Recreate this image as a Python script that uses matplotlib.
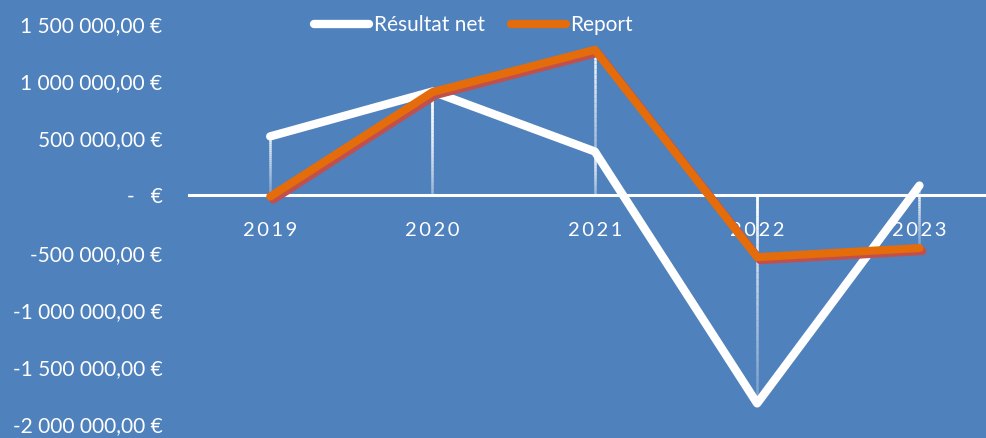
import numpy as np
import matplotlib
matplotlib.use("Agg")
import matplotlib.pyplot as plt
import matplotlib.patheffects as pe
from matplotlib.ticker import FixedLocator, FixedFormatter

years = ["2019", "2020", "2021", "2022", "2023"]
resultat_net = [517000, 910000, 385000, -1820000, 87000]
report = [-10000, 905000, 1275000, -540000, -460000]

y_ticks = [-2000000, -1500000, -1000000, -500000, 0, 500000, 1000000, 1500000]
y_labels = ["-2 000 000,00 €", "-1 500 000,00 €", "-1 000 000,00 €", "-500 000,00 €",
            "-   €", "500 000,00 €", "1 000 000,00 €", "1 500 000,00 €"]

bg = "#4F81BD"
orange = "#E46C0A"
shadow = "#C0504D"

plt.rcParams['font.family'] = ['Lato', 'DejaVu Sans']

fig = plt.figure(figsize=(9.87, 4.38), dpi=100, facecolor=bg)
ax = fig.add_axes([0.1915, 0.032, 0.8223, 0.913])
ax.set_facecolor(bg)
x = np.arange(len(years))

# drop lines with a vertical fade (bright at top)
def drop_line(xi, v):
    lo, hi = min(v, 0), max(v, 0)
    n = 30
    edges = np.linspace(hi, lo, n + 1)
    for k in range(n):
        a = 0.95 - 0.75 * k / n
        ax.plot([xi, xi], [edges[k], edges[k + 1]], color="white", alpha=a,
                lw=1.8, solid_capstyle="butt", zorder=1)

for i in x:
    drop_line(i, resultat_net[i])
    drop_line(i, report[i])

ax.plot(x, resultat_net, color="white", lw=6, solid_capstyle="round",
        label="Résultat net", zorder=3)
ax.plot(x, report, color=orange, lw=5.8, solid_capstyle="round", label="Report", zorder=4,
        path_effects=[pe.SimpleLineShadow(offset=(2.2, -2.2), shadow_color=shadow, alpha=1),
                      pe.Normal()])

ax.set_xlim(-0.5, 4.5)
ax.set_ylim(-2000000, 1500000)
ax.yaxis.set_major_locator(FixedLocator(y_ticks))
ax.yaxis.set_major_formatter(FixedFormatter(y_labels))
ax.set_xticks(x)
ax.set_xticklabels(["\u2009".join(y) for y in years])
ax.tick_params(axis="y", length=0, pad=19, labelsize=15, labelcolor="white")
ax.tick_params(axis="x", length=0, pad=19, labelsize=14.5, labelcolor="white")
for s in ["top", "right", "left"]:
    ax.spines[s].set_visible(False)
ax.spines["bottom"].set_position(("data", 0))
ax.spines["bottom"].set_color("white")
ax.spines["bottom"].set_linewidth(2.2)
ax.spines["bottom"].set_zorder(2)

leg = ax.legend(loc="upper center", bbox_to_anchor=(0.3505, 1.07), ncol=2, frameon=False,
                fontsize=15, labelcolor="white", handlelength=2.65, handletextpad=0.2,
                columnspacing=1.25)
for h in leg.get_lines():
    h.set_path_effects([])
    h.set_linewidth(6)

fig.savefig("out.png", dpi=100, facecolor=bg)
